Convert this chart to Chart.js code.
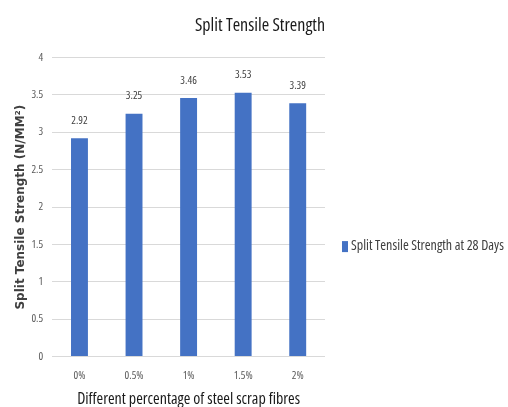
<!DOCTYPE html>
<html>
<head>
<meta charset="utf-8">
<script src="https://cdn.jsdelivr.net/npm/chart.js@4.4.1/dist/chart.umd.min.js"></script>
<style>
  html, body { margin: 0; padding: 0; background: #ffffff; }
  #wrap { width: 508px; height: 407px; }
</style>
</head>
<body>
<div id="wrap"><canvas id="c" width="508" height="407"></canvas></div>
<script>
const categories = ["0%", "0.5%", "1%", "1.5%", "2%"];
const strength28 = [2.92, 3.25, 3.46, 3.53, 3.39];
const seriesLabel = "Split Tensile Strength at 28 Days";

// Condensed Open Sans: the stretch keyword rides along in the weight slot of the font string
const face = "'Open Sans', sans-serif";
const slim = '400 condensed';

// Writes each bar's value just above it
const valueLabels = {
  id: 'valueLabels',
  afterDatasetsDraw(chart) {
    const ctx = chart.ctx;
    const meta = chart.getDatasetMeta(0);
    ctx.save();
    ctx.font = slim + " 11px " + face;
    ctx.fillStyle = '#404040';
    ctx.textAlign = 'center';
    ctx.textBaseline = 'bottom';
    meta.data.forEach((bar, i) => {
      ctx.fillText(chart.data.datasets[0].data[i].toFixed(2), bar.x, bar.y - 12);
    });
    ctx.restore();
  }
};

// Single-entry legend to the right of the plot
const sideLegend = {
  id: 'sideLegend',
  afterDraw(chart) {
    const ctx = chart.ctx;
    const area = chart.chartArea;
    const ds = chart.data.datasets[0];
    const x = area.right + 17;
    const y = (area.top + area.bottom) / 2 + 39;
    ctx.save();
    ctx.fillStyle = ds.backgroundColor;
    ctx.fillRect(x, y - 5, 6, 11);
    ctx.font = slim + " 14px " + face;
    ctx.fillStyle = '#404040';
    ctx.textAlign = 'left';
    ctx.textBaseline = 'middle';
    ctx.fillText(ds.label, x + 9, y);
    ctx.restore();
  }
};

new Chart(document.getElementById('c'), {
  type: 'bar',
  data: {
    labels: categories,
    datasets: [{
      label: seriesLabel,
      data: strength28,
      backgroundColor: '#4472c4',
      categoryPercentage: 1.0,
      barPercentage: 0.31
    }]
  },
  options: {
    responsive: false,
    animation: false,
    layout: { padding: { left: 14, right: 183, top: 13, bottom: -2 } },
    plugins: {
      title: {
        display: true,
        align: 'end',
        text: 'Split Tensile Strength',
        color: '#1a1a1a',
        font: { family: face, weight: slim, size: 18 },
        padding: { top: 2, bottom: 21 }
      },
      legend: { display: false },
      tooltip: { enabled: false }
    },
    scales: {
      x: {
        grid: { display: false },
        border: { display: false },
        ticks: { color: '#595959', font: { family: face, weight: slim, size: 11 }, padding: 5 },
        title: {
          display: true,
          text: 'Different percentage of steel scrap fibres',
          color: '#1a1a1a',
          font: { family: face, weight: slim, size: 16 },
          padding: { top: 2, bottom: 0 }
        }
      },
      y: {
        min: 0,
        max: 4,
        ticks: {
          stepSize: 0.5,
          color: '#595959',
          font: { family: face, weight: slim, size: 11 },
          padding: 9,
          callback: (v) => String(v)
        },
        grid: { color: '#d9d9d9', drawTicks: false },
        border: { display: false },
        title: {
          display: true,
          text: 'Split Tensile Strength (N/MM²)',
          color: '#404040',
          font: { family: "'DejaVu Sans', sans-serif", size: 12, weight: 'bold' },
          padding: { top: 0, bottom: -6 }
        }
      }
    }
  },
  plugins: [valueLabels, sideLegend]
});
</script>
</body>
</html>
